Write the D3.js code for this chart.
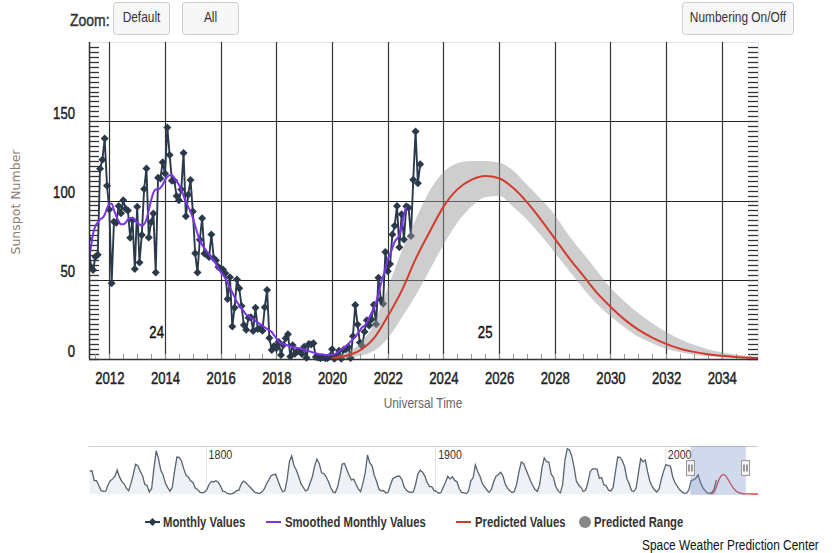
<!DOCTYPE html>
<html>
<head>
<meta charset="utf-8">
<script src="https://cdn.jsdelivr.net/npm/d3@7"></script>
<style>
  body { margin: 0; background: #fff; }
  svg { display: block; }
</style>
</head>
<body>
<svg id="chart" width="832" height="553"></svg>
<script>
// ---- data ----
// visible window of the main chart, in decimal years
var viewRange = [2011.27, 2035.3];
var navRange = [1749, 2040.6];

var xTickYears = [2012, 2014, 2016, 2018, 2020, 2022, 2024, 2026, 2028, 2030, 2032, 2034];
var yTicks = [0, 50, 100, 150];
var navTickYears = [1800, 1900, 2000];

// monthly sunspot numbers, first value = April 2011
var monthlyStart = 2011 + 3 / 12;
var monthlyValues = [
  76.1, 58.2, 56.1, 64.5, 65.8, 120.1, 125.7, 139.1, 109.3,
  94.4, 47.8, 86.6, 85.9, 96.5, 92.0, 100.1, 94.8, 93.7, 76.5, 87.6, 56.8,
  96.1, 60.9, 78.3, 107.3, 120.2, 76.7, 86.2, 91.8, 54.5, 114.4, 113.9, 124.2,
  117.0, 146.1, 128.7, 112.5, 112.5, 102.9, 100.2, 106.9, 130.0, 90.0, 103.6, 112.9,
  93.0, 66.7, 54.5, 75.3, 88.8, 66.5, 65.8, 64.4, 78.6, 63.6, 62.2, 58.0,
  57.0, 56.4, 54.1, 37.9, 51.5, 20.5, 32.4, 50.2, 44.6, 33.4, 21.4, 18.5,
  26.1, 26.4, 17.7, 32.3, 18.9, 19.2, 17.8, 32.6, 43.6, 13.2, 5.7, 8.2,
  6.8, 10.7, 2.5, 8.9, 13.1, 15.6, 1.6, 8.7, 3.3, 4.9, 4.9, 3.1,
  7.7, 0.8, 9.4, 9.1, 9.9, 1.2, 0.9, 0.5, 1.1, 0.4, 0.5, 1.5,
  6.2, 0.2, 1.5, 5.2, 0.2, 5.8, 6.1, 7.5, 0.6, 14.4, 34.0, 21.8,
  10.4, 8.2, 17.2, 24.5, 21.2, 25.0, 34.3, 22.0, 51.3, 37.4, 34.8, 67.5,
  55.3, 59.9, 78.5, 84.1, 96.5, 70.5, 91.4, 75.4, 96.3, 95.5, 77.6, 113.1,
  143.6, 110.9, 122.8
];

// 13-month smoothed values, first value = April 2011
var smoothedStart = 2011 + 3 / 12;
var smoothedValues = [
  60, 70, 79, 84, 86, 88, 89, 91, 95,
  98, 98, 94, 90, 87, 85, 85, 86, 88, 89, 89, 88,
  86, 85, 84, 85, 88, 94, 100, 105, 107, 107, 108, 110,
  113, 115, 116, 116, 114, 112, 110, 107, 103, 99, 96, 93,
  89, 84, 79, 75, 72, 70, 68, 66, 64, 62, 60, 57,
  55, 53, 51, 48, 45, 42, 39, 36, 34, 32, 30, 28,
  27, 26, 25, 24, 23, 22, 21, 20, 19, 18, 17, 15,
  13, 11, 10, 9.5, 9, 8.5, 8, 7.5, 7.2, 7, 6.8, 6.5,
  6, 5.5, 5, 4.5, 4, 3.6, 3.3, 3, 2.8, 2.6, 2.5, 2.4,
  2.6, 3, 3.8, 5, 6, 7, 8.2, 9.5, 11, 12.5, 14, 16,
  18, 20, 21, 23, 26, 29, 32, 36, 41, 47, 52, 57,
  63, 66, 70, 74, 76, 78, 84, 91, 96
];

// predicted values and range, every half year from 2020.0
var predYears = [
  2020, 2020.5, 2021, 2021.5, 2022, 2022.5, 2023, 2023.5, 2024, 2024.5,
  2025, 2025.5, 2026, 2026.5, 2027, 2027.5, 2028, 2028.5, 2029, 2029.5,
  2030, 2030.5, 2031, 2031.5, 2032, 2032.5, 2033, 2033.5, 2034, 2034.5,
  2035, 2035.5
];
var predMid = [
  0.5, 2, 5.5, 13, 27, 43, 63, 80, 96, 107,
  113, 115.5, 114, 108, 99, 88, 76, 64, 53, 42,
  33, 25, 18.5, 13.5, 9.5, 6.5, 4.5, 3, 2, 1.3,
  0.8, 0.5
];
var predHigh = [
  1, 4, 10, 22, 45, 68, 88, 106, 118, 123.5,
  125, 125, 124, 119, 110, 101, 91, 78, 67, 56,
  45, 36.5, 29, 22.5, 17, 12.5, 9, 6.2, 4.2, 2.8,
  1.8, 1.2
];
var predLow = [
  0, 0.5, 2, 5, 13, 26, 40, 56, 72, 86,
  96, 102, 103, 96, 88, 78, 67, 56, 45, 35,
  27, 20, 14, 10, 6.5, 4.2, 2.7, 1.7, 1, 0.5,
  0.3, 0.2
];
var predTailYears = [2036, 2037, 2038, 2039, 2040.6];
var predTailValues = [0.3, 0.2, 0.1, 0.1, 0.1];

// yearly sunspot numbers for the navigator, first value = 1749
var navStart = 1749;
var navYearly = [
  134.7,
  139.0, 79.5, 79.7, 51.2, 20.3, 16.0, 17.0, 54.0, 79.3, 90.0,
  104.8, 143.2, 102.0, 75.2, 60.7, 34.8, 19.0, 63.0, 116.3, 176.8,
  168.0, 136.0, 110.8, 58.0, 51.0, 11.7, 33.0, 154.2, 257.3, 209.8,
  141.3, 113.5, 64.2, 38.0, 17.0, 40.2, 138.2, 220.0, 218.2, 196.8,
  149.8, 111.0, 100.0, 78.2, 68.3, 35.5, 26.7, 10.7, 6.8, 11.3,
  24.2, 56.7, 75.0, 71.8, 79.2, 70.3, 46.8, 16.8, 13.5, 4.2,
  0.0, 2.3, 8.3, 20.3, 23.2, 59.0, 76.3, 68.3, 52.9, 38.5,
  24.2, 9.2, 6.3, 2.2, 11.4, 28.2, 59.9, 83.0, 108.5, 115.2,
  117.4, 80.8, 44.3, 13.4, 19.5, 85.8, 192.7, 227.3, 168.7, 143.0,
  105.5, 63.3, 40.3, 18.1, 25.1, 65.8, 102.7, 166.3, 208.3, 182.5,
  126.3, 122.0, 102.7, 74.1, 39.0, 12.7, 8.2, 43.4, 104.4, 178.3,
  182.2, 146.6, 112.1, 83.5, 89.2, 57.8, 30.7, 13.9, 62.8, 123.6,
  232.0, 185.3, 169.2, 110.1, 74.5, 28.3, 18.9, 20.7, 5.7, 10.0,
  53.7, 90.5, 99.0, 106.1, 105.8, 86.3, 42.4, 21.8, 11.2, 10.4,
  11.8, 59.5, 121.7, 142.0, 130.0, 106.6, 69.4, 43.8, 44.4, 20.2,
  15.7, 4.6, 8.5, 40.8, 70.1, 105.5, 90.1, 102.8, 80.9, 73.2,
  30.9, 9.5, 6.0, 2.4, 16.1, 79.0, 95.0, 173.6, 134.6, 105.7,
  62.7, 43.5, 23.7, 9.7, 27.9, 74.0, 106.5, 114.7, 129.7, 108.2,
  59.4, 35.1, 18.6, 9.2, 14.6, 60.2, 132.8, 190.6, 182.6, 148.0,
  113.0, 79.2, 50.8, 27.1, 16.1, 55.3, 154.3, 214.7, 193.0, 190.7,
  118.9, 98.3, 45.0, 20.1, 6.6, 54.2, 200.7, 269.3, 261.7, 225.1,
  159.0, 76.4, 53.4, 39.9, 15.0, 22.0, 66.8, 132.9, 150.0, 149.4,
  148.0, 94.4, 97.6, 54.1, 49.2, 22.5, 18.4, 39.3, 131.0, 220.1,
  218.9, 198.9, 162.4, 91.0, 60.5, 20.6, 14.8, 33.9, 123.0, 211.1,
  191.8, 203.3, 133.0, 76.1, 44.9, 25.1, 11.6, 28.9, 88.3, 136.3,
  173.9, 170.4, 163.6, 99.3, 65.3, 45.8, 24.7, 12.6, 4.2, 4.8,
  24.9, 80.8, 84.5, 94.0, 113.3, 69.8, 39.8, 21.7, 7.0, 3.6,
  8.8, 29.6, 83.2
];

var cycleLabels = ['24', '25'];
var cycleLabelYears = [2013.7, 2025.5];

var legendLabels = ['Monthly Values', 'Smoothed Monthly Values', 'Predicted Values', 'Predicted Range'];

(function () {
  "use strict";
  var svg = d3.select('#chart');
  // no narrow font installed: squeeze Liberation Sans to a condensed look
  var FONT = '"Liberation Sans", Arial, sans-serif';
  var SQUEEZE = 0.82;
  var C_MONTHLY = '#2b3a4b', C_SMOOTH = '#7a33e8', C_PRED = '#d23c2c', C_RANGE = '#999999';

  var plot = {left: 89, right: 758, top: 42, bottom: 359};
  var nav = {left: 88.5, right: 758, top: 446, bottom: 495, base: 494};

  var x = d3.scaleLinear().domain(viewRange).range([plot.left, plot.right]);
  var y = d3.scaleLinear().domain([0, 200]).range([plot.bottom, plot.top]);
  var nx = d3.scaleLinear().domain(navRange).range([nav.left, nav.right]);
  var ny = d3.scaleLinear().domain([0, 280]).range([nav.base, nav.top + 1]);

  var monthly = monthlyValues.map(function (v, i) { return {t: monthlyStart + i / 12, v: v}; });
  var smoothed = smoothedValues.map(function (v, i) { return {t: smoothedStart + i / 12, v: v}; });
  var pred = predYears.map(function (t, i) {
    return {t: t, v: predMid[i], lo: predLow[i], hi: predHigh[i]};
  });

  function txt(sel, size, color) {
    return sel.style('font-family', FONT).style('font-size', size + 'px').attr('fill', color || '#222');
  }
  function squeeze(sel) {
    sel.each(function () {
      var w = this.getComputedTextLength();
      d3.select(this).attr('textLength', w * SQUEEZE).attr('lengthAdjust', 'spacingAndGlyphs');
    });
    return sel;
  }
  // thicken the strokes a little, the original labels are heavier
  function heavy(sel, color) {
    return sel.attr('stroke', color || '#222').attr('stroke-width', 0.45);
  }

  // ---- top buttons ----
  heavy(squeeze(txt(svg.append('text').attr('x', 70).attr('y', 26), 17, '#333').text('Zoom:')), '#333');
  function button(x0, w, label) {
    var g = svg.append('g').attr('transform', 'translate(' + x0 + ',2.5)');
    g.append('rect').attr('width', w).attr('height', 32).attr('rx', 3)
      .attr('fill', '#f7f7f7').attr('stroke', '#cccccc');
    squeeze(txt(g.append('text').attr('x', w / 2).attr('y', 19).attr('text-anchor', 'middle'), 14.5, '#333').text(label));
  }
  button(113.5, 56, 'Default');
  button(182.5, 56, 'All');
  button(682.5, 111, 'Numbering On/Off');

  // ---- plot frame and grid ----
  svg.append('rect')
    .attr('x', plot.left + 0.5).attr('y', plot.top + 0.5)
    .attr('width', plot.right - plot.left).attr('height', plot.bottom - plot.top)
    .attr('fill', 'none').attr('stroke', '#dde4f0');

  var grid = svg.append('g');
  grid.selectAll('.vgrid').data(xTickYears).enter().append('line')
    .attr('x1', function (d) { return Math.round(x(d)) + 0.5; })
    .attr('x2', function (d) { return Math.round(x(d)) + 0.5; })
    .attr('y1', plot.top).attr('y2', plot.bottom)
    .attr('stroke', '#333').attr('stroke-width', 1.2);
  grid.selectAll('.hgrid').data(yTicks.filter(function (d) { return d > 0; })).enter().append('line')
    .attr('x1', plot.left).attr('x2', plot.right)
    .attr('y1', function (d) { return Math.round(y(d)) + 0.5; })
    .attr('y2', function (d) { return Math.round(y(d)) + 0.5; })
    .attr('stroke', '#222').attr('stroke-width', 1.2);

  // minor ticks, inside the plot
  var yMinor = d3.range(0, 200, 50 / 16);
  grid.selectAll('.yminL').data(yMinor).enter().append('line')
    .attr('x1', plot.left).attr('x2', plot.left + 10)
    .attr('y1', function (d) { return Math.round(y(d)) + 0.5; })
    .attr('y2', function (d) { return Math.round(y(d)) + 0.5; })
    .attr('stroke', '#333').attr('stroke-width', 1.3);
  grid.selectAll('.yminR').data(yMinor).enter().append('line')
    .attr('x1', plot.right - 10).attr('x2', plot.right)
    .attr('y1', function (d) { return Math.round(y(d)) + 0.5; })
    .attr('y2', function (d) { return Math.round(y(d)) + 0.5; })
    .attr('stroke', '#333').attr('stroke-width', 1.3);
  grid.selectAll('.xmin').data(d3.range(2011.5, 2035.3, 0.5)).enter().append('line')
    .attr('x1', function (d) { return Math.round(x(d)) + 0.5; })
    .attr('x2', function (d) { return Math.round(x(d)) + 0.5; })
    .attr('y1', plot.bottom - 5).attr('y2', plot.bottom)
    .attr('stroke', '#999');

  // ---- series ----
  svg.append('clipPath').attr('id', 'plot-clip').append('rect')
    .attr('x', plot.left).attr('y', plot.top)
    .attr('width', plot.right - plot.left).attr('height', plot.bottom - plot.top + 4);
  var series = svg.append('g').attr('clip-path', 'url(#plot-clip)');

  var line = d3.line().x(function (d) { return x(d.t); }).y(function (d) { return y(d.v); });
  var smoothLine = d3.line().curve(d3.curveMonotoneX)
    .x(function (d) { return x(d.t); }).y(function (d) { return y(d.v); });

  series.append('path').datum(monthly).attr('d', line)
    .attr('fill', 'none').attr('stroke', C_MONTHLY).attr('stroke-width', 1.9);
  series.selectAll('.pt').data(monthly).enter().append('path')
    .attr('d', 'M0,-4L4,0L0,4L-4,0Z')
    .attr('transform', function (d) { return 'translate(' + x(d.t) + ',' + y(d.v) + ')'; })
    .attr('fill', C_MONTHLY);

  series.append('path').datum(smoothed).attr('d', smoothLine)
    .attr('fill', 'none').attr('stroke', C_SMOOTH).attr('stroke-width', 2);

  var band = d3.area().curve(d3.curveMonotoneX)
    .x(function (d) { return x(d.t); })
    .y0(function (d) { return y(d.lo); })
    .y1(function (d) { return y(d.hi); });
  series.append('path').datum(pred).attr('d', band)
    .attr('fill', C_RANGE).attr('fill-opacity', 0.48);
  series.append('path').datum(pred).attr('d', smoothLine)
    .attr('fill', 'none').attr('stroke', C_PRED).attr('stroke-width', 2);

  // ---- axes ----
  svg.append('line').attr('x1', plot.left + 0.5).attr('x2', plot.left + 0.5)
    .attr('y1', plot.top).attr('y2', plot.bottom).attr('stroke', '#333').attr('stroke-width', 1.5);
  svg.append('line').attr('x1', plot.left).attr('x2', plot.right)
    .attr('y1', plot.bottom + 0.5).attr('y2', plot.bottom + 0.5).attr('stroke', '#333').attr('stroke-width', 1.5);

  var xAxis = svg.append('g').attr('transform', 'translate(0,' + plot.bottom + ')')
    .call(d3.axisBottom(x).tickValues(xTickYears).tickFormat(d3.format('d')).tickSize(0).tickPadding(14));
  xAxis.select('.domain').remove();
  heavy(squeeze(txt(xAxis.selectAll('text'), 16, '#222')));

  var yAxis = svg.append('g').attr('transform', 'translate(' + plot.left + ',0)')
    .call(d3.axisLeft(y).tickValues(yTicks).tickSize(0).tickPadding(14));
  yAxis.select('.domain').remove();
  heavy(squeeze(txt(yAxis.selectAll('text').attr('dy', -3), 16, '#222')));

  squeeze(txt(svg.append('text').attr('x', 423).attr('y', 408).attr('text-anchor', 'middle'), 14.5, '#666')
    .text('Universal Time'));
  svg.append('text')
    .attr('transform', 'translate(20,202) rotate(-90)')
    .attr('text-anchor', 'middle')
    .style('font-family', '"DejaVu Sans", sans-serif').style('font-size', '12.5px')
    .attr('fill', '#8a7d74')
    .text('Sunspot Number');

  cycleLabels.forEach(function (lab, i) {
    heavy(squeeze(txt(svg.append('text').attr('x', x(cycleLabelYears[i])).attr('y', y(13.5)).attr('text-anchor', 'middle'), 16, '#111')
      .text(lab)), '#111');
  });

  // ---- navigator ----
  var navData = navYearly.map(function (v, i) { return {t: navStart + i + 0.5, v: v}; });
  var navPred = pred.concat(predTailYears.map(function (t, i) { return {t: t, v: predTailValues[i]}; }));
  var navG = svg.append('g');
  navG.append('line').attr('x1', nav.left).attr('x2', nav.right)
    .attr('y1', nav.top + 0.5).attr('y2', nav.top + 0.5).attr('stroke', '#cccccc');
  navG.selectAll('.ngrid').data(navTickYears).enter().append('line')
    .attr('x1', function (d) { return Math.round(nx(d)) + 0.5; })
    .attr('x2', function (d) { return Math.round(nx(d)) + 0.5; })
    .attr('y1', nav.top).attr('y2', nav.bottom)
    .attr('stroke', '#e3e3e3');
  squeeze(navG.selectAll('.nlab').data(navTickYears).enter().append('text')
    .attr('x', function (d) { return nx(d) + 3; }).attr('y', 459)
    .text(function (d) { return d; })
    .style('font-family', FONT).style('font-size', '13px').attr('fill', '#333'));

  var navArea = d3.area().x(function (d) { return nx(d.t); })
    .y0(nav.base).y1(function (d) { return ny(d.v); });
  var navLine = d3.line().x(function (d) { return nx(d.t); }).y(function (d) { return ny(d.v); });
  navG.append('path').datum(navData).attr('d', navArea).attr('fill', '#eef1f5');
  navG.append('path').datum(navData).attr('d', navLine)
    .attr('fill', 'none').attr('stroke', '#59636d').attr('stroke-width', 1.3);
  navG.append('path').datum(navPred).attr('d', navLine.curve(d3.curveMonotoneX))
    .attr('fill', 'none').attr('stroke', '#e0403a').attr('stroke-width', 1.3);

  var s0 = nx(viewRange[0]), s1 = nx(viewRange[1]);
  navG.append('rect').attr('x', s0).attr('y', nav.top)
    .attr('width', s1 - s0).attr('height', nav.bottom - nav.top)
    .attr('fill', 'rgba(102,133,194,0.3)');
  [s0, s1].forEach(function (hx) {
    var g = navG.append('g').attr('transform', 'translate(' + (Math.round(hx) - 0.5) + ',460.5)');
    g.append('rect').attr('x', -4).attr('width', 8).attr('height', 15)
      .attr('fill', '#f2f2f2').attr('stroke', '#999');
    g.append('path').attr('d', 'M-1.5,4V11M1.5,4V11').attr('stroke', '#444');
  });

  // ---- legend ----
  var lg = svg.append('g').attr('transform', 'translate(0,522)');
  var legendX = [163, 285, 475, 594];
  lg.append('line').attr('x1', 145).attr('x2', 160).attr('stroke', C_MONTHLY).attr('stroke-width', 2);
  lg.append('path').attr('d', 'M0,-4L4,0L0,4L-4,0Z').attr('transform', 'translate(152.5,0)').attr('fill', C_MONTHLY);
  lg.append('line').attr('x1', 266).attr('x2', 281).attr('stroke', C_SMOOTH).attr('stroke-width', 2);
  lg.append('line').attr('x1', 456).attr('x2', 471).attr('stroke', C_PRED).attr('stroke-width', 2);
  lg.append('circle').attr('cx', 585).attr('r', 6).attr('fill', '#888');
  squeeze(lg.selectAll('.lt').data(legendLabels).enter().append('text')
    .attr('x', function (d, i) { return legendX[i]; }).attr('y', 5)
    .text(function (d) { return d; })
    .style('font-family', FONT).style('font-size', '13.8px').style('font-weight', 'bold').attr('fill', '#333'));

  // credit line: scaled with a transform so its box stays inside the page
  svg.append('g').attr('transform', 'translate(642,550) scale(' + SQUEEZE + ',1)')
    .append('text').attr('x', 0).attr('y', 0)
    .style('font-family', FONT).style('font-size', '14.5px').attr('fill', '#111')
    .text('Space Weather Prediction Center');
}());
</script>
</body>
</html>
